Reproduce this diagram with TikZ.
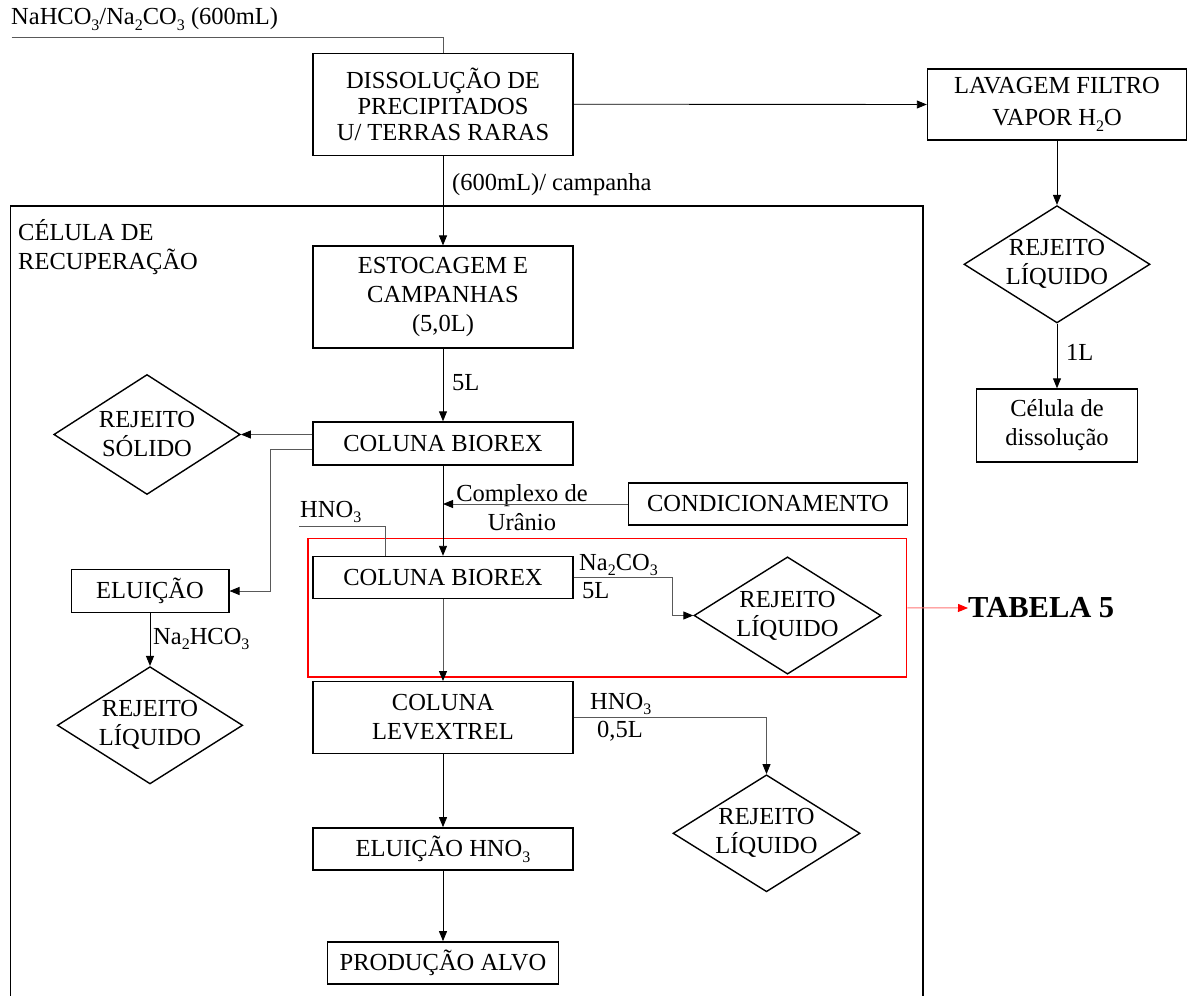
\documentclass[tikz,border=0pt]{standalone}
\usepackage{fontspec}
\setmainfont{Liberation Serif}
\usetikzlibrary{shapes.geometric,arrows.meta}
% chemical subscripts, set a little lower than \textsubscript
\newcommand\chsub[1]{\raisebox{-0.24em}{\fontsize{16}{16}\selectfont #1}}
\begin{document}
\begin{tikzpicture}[x=1pt,y=-1pt,
  every node/.style={font=\fontsize{24.5}{29}\selectfont, inner sep=0pt},
  box/.style={draw, line width=1.4pt, rectangle, align=center},
  dia/.style={draw, line width=1.4pt, diamond, align=center, inner sep=-4pt, shape aspect=1.6},
  lbl/.style={anchor=west, align=left},
  tip/.style={-{Triangle[length=10pt,width=8pt,color=black]}},
  arr/.style={draw=black, line width=0.9pt, tip},
  gln/.style={draw=black!65, line width=0.9pt},
  garr/.style={gln, tip},
  redarr/.style={draw=red!55, line width=1pt, -{Triangle[length=10pt,width=8pt,color=red]}}
]
\useasboundingbox (0,0) rectangle (1187,996);

% recovery cell frame, open at the bottom
\draw[line width=1.8pt] (10.5,996) -- (10.5,205.7) -- (923,205.7) -- (923,996);
\node[lbl] (cellname) at (18,247.5) {CÉLULA DE\\RECUPERAÇÃO};

% process boxes
\node[box, minimum width=260, minimum height=102, font=\fontsize{24.5}{26}\selectfont]
  (dis) at (443,104.2) {DISSOLUÇÃO DE\\PRECIPITADOS\\U/ TERRAS RARAS};
\node[box, minimum width=259, minimum height=71, font=\fontsize{24.5}{32}\selectfont]
  (lav) at (1057,104.5) {LAVAGEM FILTRO\\VAPOR H\chsub{2}O};
\node[dia, minimum width=186, minimum height=117.3] (rejL1) at (1057,264.3) {REJEITO\\LÍQUIDO};
\node[box, minimum width=161, minimum height=73] (cel) at (1057,425.5) {Célula de\\dissolução};

\node[box, minimum width=260, minimum height=101.7] (est) at (443,297) {ESTOCAGEM E\\CAMPANHAS\\(5,0L)};
\node[box, minimum width=260, minimum height=43] (bio1) at (443,443.5) {COLUNA BIOREX};
\node[dia, minimum width=186.4, minimum height=120] (rejS) at (147,434.5) {REJEITO\\SÓLIDO};
\node[box, minimum width=157.6, minimum height=43.4] (elu) at (150,591) {ELUIÇÃO};
\node[dia, minimum width=185.4, minimum height=117.3] (rejL2) at (150,725.3) {REJEITO\\LÍQUIDO};
\node[box, minimum width=278.5, minimum height=42] (cond) at (768,504) {CONDICIONAMENTO};
\node[box, minimum width=260, minimum height=42] (bio2) at (443,577.5) {COLUNA BIOREX};
\node[dia, minimum width=187, minimum height=117.3] (rejL3) at (787.5,615.5) {REJEITO\\LÍQUIDO};
\node[box, minimum width=260, minimum height=71.6] (lev) at (443,717.5) {COLUNA\\LEVEXTREL};
\node[dia, minimum width=187, minimum height=117] (rejL4) at (766.5,833.3) {REJEITO\\LÍQUIDO};
\node[box, minimum width=260, minimum height=42.3] (eluh) at (443,849) {ELUIÇÃO HNO\chsub{3}};
\node[box, minimum width=231.2, minimum height=42.3] (prod) at (443,963) {PRODUÇÃO ALVO};

% highlighted section and its reference
\node[draw=red, line width=1.4pt, minimum width=598.6, minimum height=138.5] (sel) at (607.3,607.75) {};
\node[anchor=west, font=\bfseries\fontsize{30.5}{32}\selectfont] (tab) at (968,608) {TABELA 5};

% flow labels
\node[lbl] (feed) at (11,19) {NaHCO\chsub{3}/Na\chsub{2}CO\chsub{3} (600mL)};
\node[lbl] (l600) at (452,185) {(600mL)/ campanha};
\node[lbl] (l5) at (452,383) {5L};
\node[lbl] (l1) at (1066,352) {1L};
\node[align=center] (lcompl) at (522,508) {Complexo de\\Urânio};
\node[lbl] (lhno1) at (300,512) {HNO\chsub{3}};
\node[lbl] (lna2co3) at (579,565) {Na\chsub{2}CO\chsub{3}};
\node[lbl] (l5b) at (582,591) {5L};
\node[lbl] (lhno2) at (590,704) {HNO\chsub{3}};
\node[lbl] (l05) at (597,731) {0,5L};
\node[lbl] (lnahco) at (153,639) {Na\chsub{2}HCO\chsub{3}};

% free ends of feed lines
\coordinate (feedend) at (11.5,37.3);
\coordinate (hnoend) at (299,526);

% connectors
\draw[gln] (feedend) -| (dis.north);
\draw[arr] (dis.east) -- (lav.west);
\draw[arr] (lav.south) -- (rejL1.north);
\draw[arr] (rejL1.south) -- (cel.north);
\draw[arr] (dis.south) -- (est.north);
\draw[arr] (est.south) -- (bio1.north);
\draw[garr] ([yshift=9pt]bio1.west) -- (rejS.east);
\draw[garr] ([yshift=-6pt]bio1.west) -- ++(-42,0) |- (elu.east);
\draw[arr] (elu.south) -- (rejL2.north);
\draw[arr] (bio1.south) -- (bio2.north);
\draw[garr] (cond.west) -- (cond.west -| bio1.south);
\draw[gln] (hnoend) -| ([xshift=-57.5pt]bio2.north);
\draw[garr] (bio2.east) -- ++(99,0) |- (rejL3.west);
\draw[redarr] (sel.east) -- (tab.west);
\draw[garr] (bio2.south) -- (lev.north);
\draw[garr] (lev.east) -| (rejL4.north);
\draw[arr] (lev.south) -- (eluh.north);
\draw[arr] (eluh.south) -- (prod.north);
\end{tikzpicture}
\end{document}
